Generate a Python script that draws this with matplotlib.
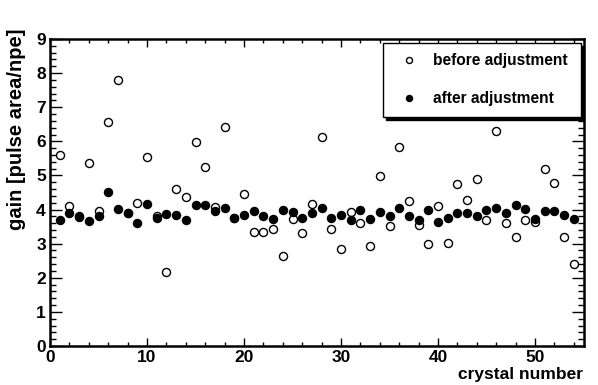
import numpy as np
import matplotlib
matplotlib.use("Agg")
import matplotlib.pyplot as plt
from matplotlib.ticker import MultipleLocator

# gain per crystal
crystal = np.arange(1, 55)
gain_before = [5.61, 4.11, 3.80, 5.36, 3.96, 6.58, 7.80, 3.90, 4.18, 5.55,
               3.82, 2.17, 4.61, 4.37, 5.98, 5.24, 4.07, 6.43, 3.76, 4.46,
               3.34, 3.33, 3.42, 2.65, 3.72, 3.30, 4.17, 6.14, 3.43, 2.84,
               3.92, 3.62, 2.92, 4.98, 3.53, 5.84, 4.24, 3.56, 2.98, 4.10,
               3.02, 4.74, 4.29, 4.91, 3.69, 6.30, 3.61, 3.21, 3.69, 3.64,
               5.20, 4.79, 3.21, 2.40]
gain_after = [3.69, 3.89, 3.77, 3.66, 3.82, 4.51, 4.02, 3.89, 3.62, 4.15,
              3.74, 3.87, 3.83, 3.70, 4.14, 4.12, 3.95, 4.06, 3.75, 3.85,
              3.97, 3.82, 3.72, 3.98, 3.93, 3.74, 3.91, 4.06, 3.74, 3.83,
              3.68, 3.98, 3.71, 3.93, 3.82, 4.06, 3.82, 3.68, 3.98, 3.64,
              3.75, 3.90, 3.90, 3.82, 3.98, 4.06, 3.91, 4.12, 4.02, 3.71,
              3.96, 3.96, 3.85, 3.73]

plt.rcParams['font.family'] = ['Liberation Sans', 'DejaVu Sans']
plt.rcParams['font.weight'] = 'bold'

fig = plt.figure(figsize=(5.98, 3.85), dpi=100)
ax = fig.add_axes([50/598, 39/385, 533.5/598, 307/385])

ax.plot(crystal, gain_before, 'o', mfc='white', mec='black', mew=1.0, ms=5.8,
        label='before adjustment', zorder=3)
ax.plot(crystal, gain_after, 'o', mfc='black', mec='black', ms=5.8,
        label='after adjustment', zorder=4)

ax.set_xlim(0, 55)
ax.set_ylim(0, 9)
ax.xaxis.set_major_locator(MultipleLocator(10))
ax.xaxis.set_minor_locator(MultipleLocator(2))
ax.yaxis.set_major_locator(MultipleLocator(1))
ax.yaxis.set_minor_locator(MultipleLocator(0.2))

# ROOT style: ticks inside on all four sides
ax.tick_params(axis='y', which='major', direction='in', length=8.5, width=1,
               left=True, right=True, labelsize=12.5, pad=3)
ax.tick_params(axis='y', which='minor', direction='in', length=4.5, width=1,
               left=True, right=True)
ax.tick_params(axis='x', which='major', direction='in', length=5.5, width=1,
               bottom=True, top=True, labelsize=12.5, pad=3)
ax.tick_params(axis='x', which='minor', direction='in', length=3, width=1,
               bottom=True, top=True)
for sp in ax.spines.values():
    sp.set_linewidth(1.8)

fig.text(17/598, 1 - 28/385, 'gain [pulse area/npe]', rotation=90,
         ha='center', va='top', fontsize=14.5, fontweight='bold')
fig.text(583/598, 1 - 379/385, 'crystal number', ha='right', va='baseline',
         fontsize=12.5, fontweight='bold')

leg = ax.legend(loc='upper left', bbox_to_anchor=(0.624, 0.987, 0.371, 0.0),
                mode='expand', borderaxespad=0, fontsize=11.2, frameon=True,
                fancybox=False, edgecolor='black', framealpha=1,
                borderpad=0.65, labelspacing=1.5, handlelength=2.0,
                handletextpad=0.55, markerscale=0.75,
                shadow={'color': 'black', 'alpha': 1.0, 'ox': 2.2, 'oy': -2.2})
leg.get_frame().set_linewidth(1.0)

fig.savefig('out.png', dpi=100)
